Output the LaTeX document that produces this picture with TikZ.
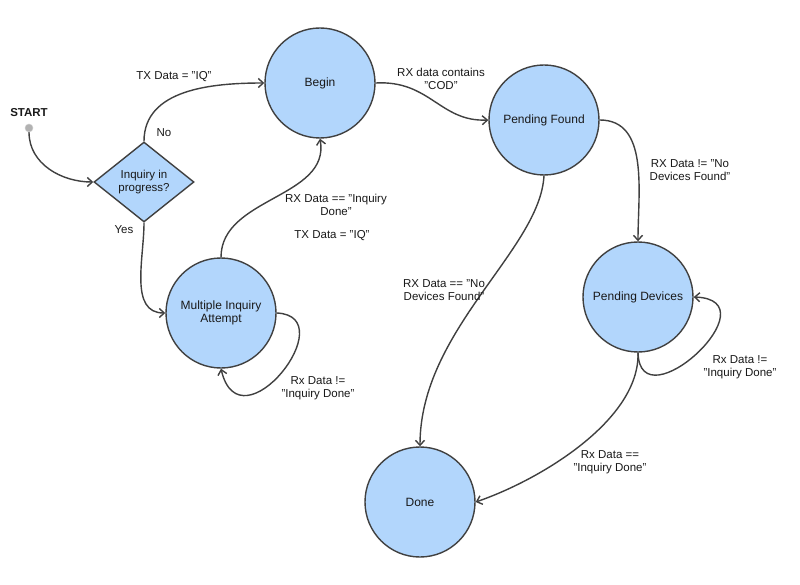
\documentclass[tikz,border=0pt]{standalone}
\usepackage{fontspec}
\setmainfont{Liberation Sans}
\usetikzlibrary{shapes.geometric,arrows.meta}
\definecolor{stfill}{RGB}{178,214,252}
\definecolor{stline}{RGB}{64,64,64}
\begin{document}
\begin{tikzpicture}[x=1pt,y=-1pt,
  state/.style={circle,draw=stline,line width=1.4pt,fill=stfill,minimum size=110pt,inner sep=0pt,align=center,font=\fontsize{12}{13.5}\selectfont},
  decision/.style={diamond,draw=stline,line width=1.4pt,fill=stfill,minimum width=100pt,minimum height=80pt,inner sep=0pt,align=center,aspect=1.25,font=\fontsize{11.5}{13}\selectfont},
  lbl/.style={align=center,font=\fontsize{11.5}{12.5}\selectfont,inner sep=0pt},
  conn/.style={draw=stline,line width=1.4pt,-{Straight Barb[length=5pt,width=9pt]}},
  every node/.append style={text=black!90}]
\useasboundingbox[fill=white] (0,0) rectangle (800,585);

\node[state] (begin) at (320,83) {Begin};
\node[state] (pf) at (544,120) {Pending Found};
\node[state] (pd) at (638,297) {Pending Devices};
\node[state] (done) at (420,502) {Done};
\node[state] (mia) at (221,313) {Multiple Inquiry\\Attempt};
\node[decision] (dec) at (144,182) {Inquiry in\\progress?};
\node[circle,fill=black!30,draw=black!20,minimum size=8pt,inner sep=0pt] (start) at (29,128) {};
\node[font=\fontsize{11.5}{13}\selectfont\bfseries] (startlbl) at (29,113) {START};

\draw[conn] (start) to[out=-90,in=180] (dec.west);
\draw[conn] (dec.north) to[out=90,in=180] (begin.west);
\draw[conn] (dec.south) to[out=-90,in=180] (mia.west);
\draw[conn] (mia.north) to[out=90,in=-80] (begin.south);
\draw[conn] (mia.east) .. controls (345,316) and (240,450) .. (mia.south);
\draw[conn] (begin.east) .. controls (430,80) and (440,122) .. (pf.west);
\draw[conn] (pf.east) to[out=0,in=90] (pd.north);
\draw[conn] (pf.south) .. controls (540,250) and (420,330) .. (done.north);
\draw[conn] (pd.south) .. controls (640,425) and (775,300) .. (pd.east);
\draw[conn] (pd.south) .. controls (640,420) and (540,480) .. (done.east);

\node[lbl] (l1) at (174,77) {TX Data = "IQ"};
\node[lbl] (l2) at (164,133) {No};
\node[lbl] (l3) at (124,230) {Yes};
\node[lbl] (l4) at (336,205) {RX Data == "Inquiry\\Done"};
\node[lbl] (l5) at (332,236) {TX Data = "IQ"};
\node[lbl] (l6) at (318,388) {Rx Data !=\\"Inquiry Done"};
\node[lbl] (l7) at (441,79) {RX data contains\\"COD"};
\node[lbl] (l8) at (690,170) {RX Data != "No\\Devices Found"};
\node[lbl] (l9) at (444,290) {RX Data == "No\\Devices Found"};
\node[lbl] (l10) at (740,367) {Rx Data !=\\"Inquiry Done"};
\node[lbl] (l11) at (610,462) {Rx Data ==\\"Inquiry Done"};
\end{tikzpicture}
\end{document}
